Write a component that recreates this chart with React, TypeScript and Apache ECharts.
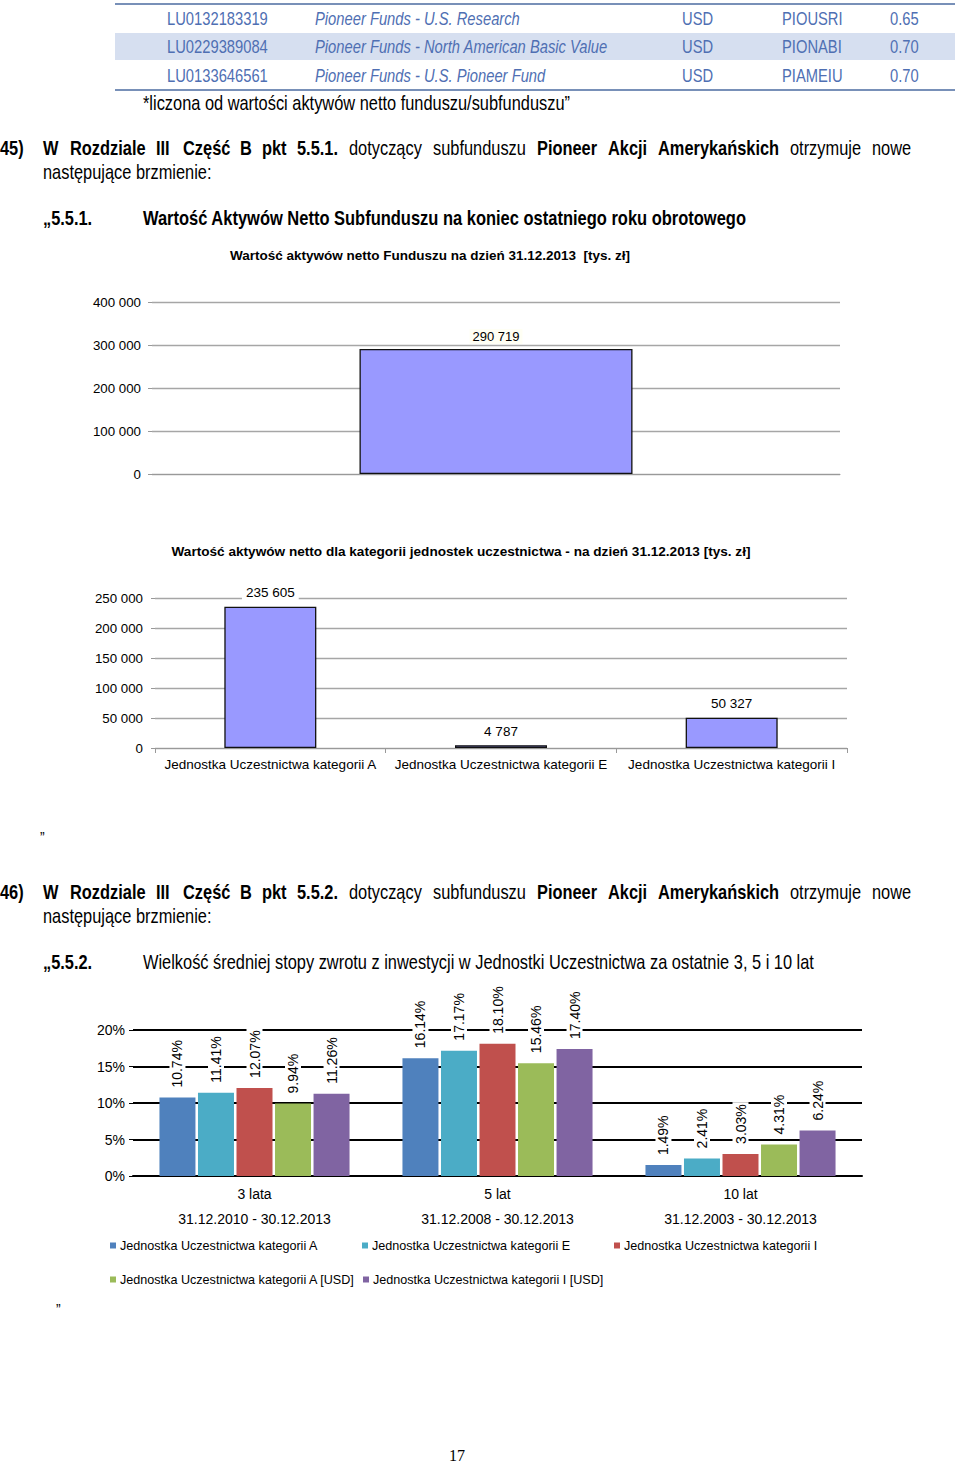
import React, { useEffect, useRef } from "react";
import * as echarts from "echarts";

// ---------- data ----------
const tableCodes = ["LU0132183319", "LU0229389084", "LU0133646561"];
const tableNames = [
  "Pioneer Funds - U.S. Research",
  "Pioneer Funds - North American Basic Value",
  "Pioneer Funds - U.S. Pioneer Fund",
];
const tableCcy = ["USD", "USD", "USD"];
const tableTickers = ["PIOUSRI", "PIONABI", "PIAMEIU"];
const tableFees = ["0.65", "0.70", "0.70"];

const chart1Title = "Wartość aktywów netto Funduszu na dzień 31.12.2013  [tys. zł]";
const chart1Categories = ["Fundusz"];
const chart1Values = [290719];

const chart2Title =
  "Wartość aktywów netto dla kategorii jednostek uczestnictwa - na dzień 31.12.2013 [tys. zł]";
const chart2Categories = [
  "Jednostka Uczestnictwa kategorii A",
  "Jednostka Uczestnictwa kategorii E",
  "Jednostka Uczestnictwa kategorii I",
];
const chart2Values = [235605, 4787, 50327];

const chart3Categories = ["3 lata", "5 lat", "10 lat"];
const chart3Periods = [
  "31.12.2010 - 30.12.2013",
  "31.12.2008 - 30.12.2013",
  "31.12.2003 - 30.12.2013",
];
const chart3SeriesNames = [
  "Jednostka Uczestnictwa kategorii A",
  "Jednostka Uczestnictwa kategorii E",
  "Jednostka Uczestnictwa kategorii I",
  "Jednostka Uczestnictwa kategorii A [USD]",
  "Jednostka Uczestnictwa kategorii I [USD]",
];
const seriesA = [10.74, 16.14, 1.49];
const seriesE = [11.41, 17.17, 2.41];
const seriesI = [12.07, 18.1, 3.03];
const seriesAUSD = [9.94, 15.46, 4.31];
const seriesIUSD = [11.26, 17.4, 6.24];
const chart3Colors = ["#4f81bd", "#4bacc6", "#c0504d", "#9bbb59", "#8064a2"];

const para45 = [
  ["W", 43, true], ["Rozdziale", 70, true], ["III", 156, true], ["Część", 183, true],
  ["B", 240, true], ["pkt", 262, true], ["5.5.1.", 297, true], ["dotyczący", 349, false],
  ["subfunduszu", 433, false], ["Pioneer", 537, true], ["Akcji", 608, true],
  ["Amerykańskich", 658, true], ["otrzymuje", 790, false], ["nowe", 872, false],
];
const para46 = [
  ["W", 43, true], ["Rozdziale", 70, true], ["III", 156, true], ["Część", 183, true],
  ["B", 240, true], ["pkt", 262, true], ["5.5.2.", 297, true], ["dotyczący", 349, false],
  ["subfunduszu", 433, false], ["Pioneer", 537, true], ["Akcji", 608, true],
  ["Amerykańskich", 658, true], ["otrzymuje", 790, false], ["nowe", 872, false],
];

// ---------- helpers ----------
const SANS = "'Liberation Sans', Arial, sans-serif";
const fmt = (v: number) => String(v).replace(/\B(?=(\d{3})+(?!\d))/g, " ");

function txt(
  x: number,
  y: number,
  text: string,
  o: { size?: number; bold?: boolean; italic?: boolean; fill?: string; align?: string; sx?: number; family?: string } = {}
) {
  return {
    type: "text",
    x,
    y,
    scaleX: o.sx ?? 0.82,
    style: {
      text,
      fontSize: o.size ?? 20,
      fontFamily: o.family ?? SANS,
      fontWeight: o.bold ? "bold" : "normal",
      fontStyle: o.italic ? "italic" : "normal",
      fill: o.fill ?? "#000",
      textAlign: o.align ?? "left",
      textVerticalAlign: "middle",
      align: o.align ?? "left",
      verticalAlign: "middle",
    },
  };
}

function buildGraphic() {
  const g: any[] = [];
  // table
  g.push({ type: "rect", shape: { x: 115, y: 33, width: 840, height: 27 }, style: { fill: "#d6dff0" } });
  g.push({ type: "line", shape: { x1: 115, y1: 4, x2: 955, y2: 4 }, style: { stroke: "#7890b8", lineWidth: 2 } });
  g.push({ type: "line", shape: { x1: 115, y1: 90, x2: 955, y2: 90 }, style: { stroke: "#7890b8", lineWidth: 2 } });
  const rowY = [18, 46, 75];
  const blue = "#4f6fb3";
  tableCodes.forEach((c, i) => {
    g.push(txt(167, rowY[i], c, { size: 18, fill: blue }));
    g.push(txt(315, rowY[i], tableNames[i], { size: 18, fill: blue, italic: true }));
    g.push(txt(682, rowY[i], tableCcy[i], { size: 18, fill: blue }));
    g.push(txt(782, rowY[i], tableTickers[i], { size: 18, fill: blue }));
    g.push(txt(890, rowY[i], tableFees[i], { size: 18, fill: blue }));
  });
  g.push(txt(143, 103, "*liczona od wartości aktywów netto funduszu/subfunduszu”", { size: 20 }));

  // section 45
  g.push(txt(0, 148, "45)", { bold: true }));
  para45.forEach(([w, x, b]) => g.push(txt(x as number, 148, w as string, { bold: b as boolean })));
  g.push(txt(43, 172, "następujące brzmienie:"));
  g.push(txt(43, 218, "„5.5.1.", { bold: true }));
  g.push(txt(143, 218, "Wartość Aktywów Netto Subfunduszu na koniec ostatniego roku obrotowego", { bold: true, size: 20.1 }));

  // chart titles
  g.push(txt(430, 255, chart1Title, { size: 13.5, bold: true, align: "center", sx: 1 }));
  g.push(txt(461, 551, chart2Title, { size: 13.6, bold: true, align: "center", sx: 1 }));

  g.push(txt(40, 838, "”", { size: 17 }));

  // section 46
  g.push(txt(0, 892, "46)", { bold: true }));
  para46.forEach(([w, x, b]) => g.push(txt(x as number, 892, w as string, { bold: b as boolean })));
  g.push(txt(43, 916, "następujące brzmienie:"));
  g.push(txt(43, 962, "„5.5.2.", { bold: true }));
  g.push(
    txt(143, 962, "Wielkość średniej stopy zwrotu z inwestycji w Jednostki Uczestnictwa za ostatnie 3, 5 i 10 lat")
  );

  g.push(txt(56, 1310, "”", { size: 17 }));
  g.push(txt(457, 1455, "17", { size: 16, align: "center", sx: 1, family: "'Liberation Serif', 'Times New Roman', serif" }));
  return g;
}

function buildOption() {
  const series3Data = [seriesA, seriesE, seriesI, seriesAUSD, seriesIUSD];
  const legendPos = [
    [110, 1239],
    [362, 1239],
    [614, 1239],
    [110, 1273],
    [363, 1273],
  ];
  return {
    animation: false,
    backgroundColor: "#fff",
    textStyle: { fontFamily: SANS },
    graphic: buildGraphic(),
    legend: chart3SeriesNames.map((n, i) => ({
      data: [n],
      left: legendPos[i][0],
      top: legendPos[i][1],
      icon: "rect",
      itemWidth: 6,
      itemHeight: 6,
      padding: 0,
      textStyle: { fontSize: 12.6, color: "#000", fontFamily: SANS, padding: [0, 0, 0, -1] },
      selectedMode: false,
    })),
    grid: [
      { left: 152, top: 302, width: 688, height: 172 },
      { left: 155, top: 598, width: 692, height: 150 },
      { left: 133, top: 1030, width: 729, height: 146 },
    ],
    xAxis: [
      {
        gridIndex: 0,
        type: "category",
        data: chart1Categories,
        axisLine: { lineStyle: { color: "#999", width: 1 } },
        axisTick: { show: false },
        axisLabel: { show: false },
      },
      {
        gridIndex: 1,
        type: "category",
        data: chart2Categories,
        axisLine: { lineStyle: { color: "#999", width: 1 } },
        axisTick: { show: true, length: 5, lineStyle: { color: "#999" } },
        axisLabel: { fontSize: 13.5, color: "#000", margin: 9, fontFamily: SANS, interval: 0, hideOverlap: false },
      },
      {
        gridIndex: 2,
        type: "category",
        data: chart3Categories,
        axisLine: { lineStyle: { color: "#000", width: 2 } },
        axisTick: { show: false },
        axisLabel: {
          fontSize: 14,
          color: "#000",
          margin: 5,
          lineHeight: 25,
          fontFamily: SANS,
          interval: 0,
          formatter: (v: string, i: number) => v + "\n" + chart3Periods[i],
        },
      },
    ],
    yAxis: [
      {
        gridIndex: 0,
        type: "value",
        min: 0,
        max: 400000,
        interval: 100000,
        axisLine: { show: false },
        axisTick: { show: true, length: 4, lineStyle: { color: "#999" } },
        splitLine: { lineStyle: { color: "#a6a6a6", width: 1.3 } },
        axisLabel: { fontSize: 13.3, color: "#000", margin: 11, formatter: (v: number) => fmt(v) },
      },
      {
        gridIndex: 1,
        type: "value",
        min: 0,
        max: 250000,
        interval: 50000,
        axisLine: { show: false },
        axisTick: { show: true, length: 4, lineStyle: { color: "#999" } },
        splitLine: { lineStyle: { color: "#a6a6a6", width: 1.3 } },
        axisLabel: { fontSize: 13.3, color: "#000", margin: 12, formatter: (v: number) => fmt(v) },
      },
      {
        gridIndex: 2,
        type: "value",
        min: 0,
        max: 20,
        interval: 5,
        axisLine: { show: false },
        axisTick: { show: true, length: 4, lineStyle: { color: "#000" } },
        splitLine: { lineStyle: { color: "#000", width: 2 } },
        axisLabel: { fontSize: 14, color: "#000", margin: 8, formatter: (v: number) => v + "%" },
      },
    ],
    series: [
      {
        type: "bar",
        xAxisIndex: 0,
        yAxisIndex: 0,
        data: chart1Values,
        barWidth: 273,
        itemStyle: { color: "#9999ff", borderColor: "#111", borderWidth: 1.3 },
        label: {
          show: true,
          position: "top",
          distance: 5,
          fontSize: 13,
          color: "#000",
          backgroundColor: "#fffff4",
          padding: [1, 3],
          formatter: (p: any) => fmt(p.value),
        },
      },
      {
        type: "bar",
        xAxisIndex: 1,
        yAxisIndex: 1,
        data: chart2Values,
        barWidth: 92,
        itemStyle: { color: "#9999ff", borderColor: "#111", borderWidth: 1.3 },
        label: {
          show: true,
          position: "top",
          distance: 6,
          fontSize: 13.5,
          color: "#000",
          backgroundColor: "#fff",
          padding: [1, 4],
          formatter: (p: any) => fmt(p.value),
        },
      },
      ...chart3SeriesNames.map((n, i) => ({
        type: "bar",
        name: n,
        xAxisIndex: 2,
        yAxisIndex: 2,
        data: series3Data[i],
        barWidth: 36,
        barGap: "7%",
        itemStyle: { color: chart3Colors[i] },
        label: {
          show: true,
          position: "top",
          distance: 8,
          rotate: 90,
          align: "left",
          verticalAlign: "middle",
          fontSize: 14,
          color: "#000",
          backgroundColor: "#fff",
          padding: [1, 2],
          formatter: (p: any) => p.value.toFixed(2) + "%",
        },
      })),
    ],
  };
}

export default function App() {
  const ref = useRef<HTMLDivElement>(null);
  useEffect(() => {
    if (!ref.current) return;
    const chart = echarts.init(ref.current, null, { renderer: "svg" });
    chart.setOption(buildOption() as any);
    return () => chart.dispose();
  }, []);
  return (
    <div
      ref={ref}
      style={{ position: "absolute", left: 0, top: 0, width: 960, height: 1464, background: "#fff" }}
    />
  );
}
